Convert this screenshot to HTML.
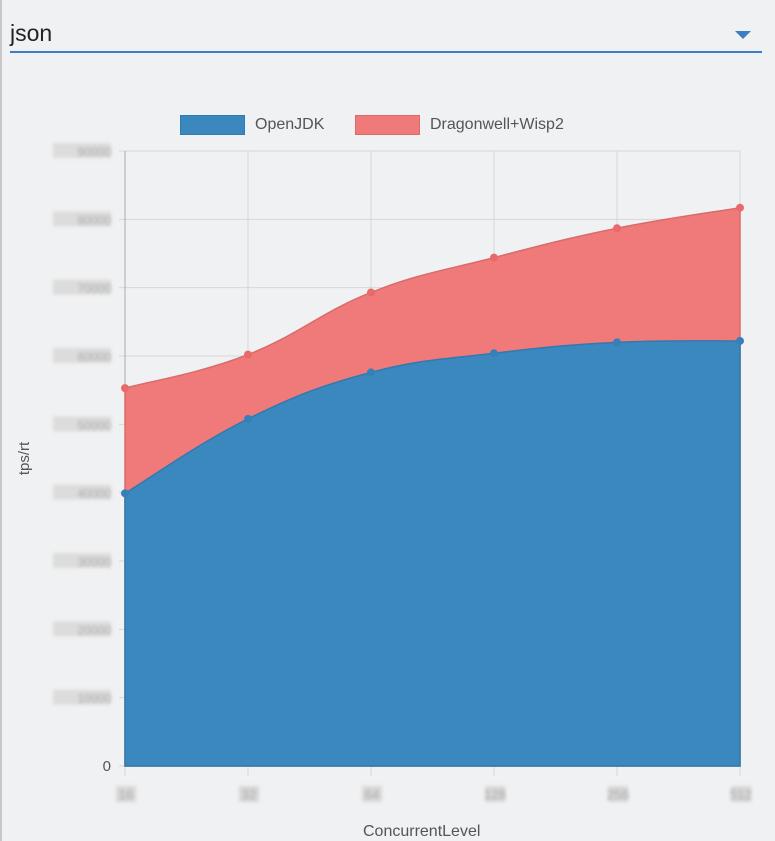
<!DOCTYPE html>
<html><head><meta charset="utf-8"><style>
body{margin:0;background:#f0f1f2;font-family:"Liberation Sans",sans-serif;}
#wrap{position:relative;width:775px;height:841px;overflow:hidden;border-left:2px solid #c8c8c8;box-sizing:border-box;}
</style></head><body>
<div id="wrap">
<div style="position:absolute;left:8px;top:14px;width:752px;height:37px;border-bottom:2px solid #3a7fc0;">
<span style="position:absolute;left:0;top:6px;font-size:23px;color:#222;">json</span>
<span style="position:absolute;left:725px;top:17px;width:0;height:0;border-left:8px solid transparent;border-right:8px solid transparent;border-top:8px solid #3a7fc0;"></span>
</div>
<svg id="c" width="775" height="841" style="position:absolute;left:-2px;top:0"></svg>
</div>
<script>
const categories=["16","32","64","128","256","512"];
const openjdk=[39900,50800,57600,60400,62000,62200];
const dragonwell=[15400,9400,11700,14000,16700,19500];
const yTicks=[0,10000,20000,30000,40000,50000,60000,70000,80000,90000];
const NS="http://www.w3.org/2000/svg";
const svg=document.getElementById('c');
const L=125,R=740,B=766,T=151,yMax=90000;
const x=i=>L+i*(R-L)/(categories.length-1);
const y=v=>B-v/yMax*(B-T);
function el(t,a,p){const e=document.createElementNS(NS,t);for(const k in a)e.setAttribute(k,a[k]);(p||svg).appendChild(e);return e;}
yTicks.forEach((v,i)=>{
 const g=el('line',{x1:L-6,x2:R,y1:y(v),y2:y(v),stroke:'#d6d6d6'});
 
 
 if(v!==0){el('rect',{x:53,y:y(v)-8,width:58,height:15,fill:'#dcdcdc',style:'filter:blur(1.5px)'});}
 const t=el('text',{x:L-14,y:y(v)+5,'text-anchor':'end','font-size':v===0?15:12,fill:v===0?'#555':'#aaa',style:v===0?'':'filter:blur(1.5px)'});
 t.textContent=v;
 
 
});
categories.forEach((c,i)=>{
 const g=el('line',{x1:x(i),x2:x(i),y1:T,y2:B+10,stroke:'#d6d6d6'});
 
 
 el('rect',{x:x(i)-9,y:B+20,width:20,height:16,fill:'#d8d8d8',style:'filter:blur(1.5px)'});
 const t=el('text',{x:x(i)+1,y:B+33,'text-anchor':'middle','font-size':13,fill:'#aaa',style:'filter:blur(1.5px)'});
 t.textContent=c;
 
 
});
el('line',{x1:L,x2:L,y1:T,y2:B,stroke:'#aaa'});
function path(pts){
 let d=`M${pts[0][0]},${pts[0][1]}`;const t=0.4;
 for(let i=0;i<pts.length-1;i++){
  const p0=pts[i-1]||pts[i],p1=pts[i],p2=pts[i+1],p3=pts[i+2]||p2;
  const c1=[p1[0]+(p2[0]-p0[0])*t/2,p1[1]+(p2[1]-p0[1])*t/2];
  const c2=[p2[0]-(p3[0]-p1[0])*t/2,p2[1]-(p3[1]-p1[1])*t/2];
  d+=` C${c1[0]},${c1[1]} ${c2[0]},${c2[1]} ${p2[0]},${p2[1]}`;
 }return d;}
const p1=openjdk.map((v,i)=>[x(i),y(v)]);
const p2=openjdk.map((v,i)=>[x(i),y(v+dragonwell[i])]);
const a2=el('path',{d:path(p2)+` L${R},${B} L${L},${B} Z`,fill:'#f07a7a',stroke:'#d96b6b','stroke-width':1.5});


const a1=el('path',{d:path(p1)+` L${R},${B} L${L},${B} Z`,fill:'#3a88bd',stroke:'#2f7ab0','stroke-width':1.5});


p2.forEach(p=>{const c=el('circle',{cx:p[0],cy:p[1],r:4,fill:'#e86a6a'});
 
 });
p1.forEach(p=>{const c=el('circle',{cx:p[0],cy:p[1],r:4,fill:'#3580b8'});
 
 });
</script>
<div style="position:absolute;left:180px;top:115px;font-size:16px;color:#555;">
<span style="position:absolute;left:0;top:0;white-space:nowrap;"><span style="display:inline-block;width:63px;height:18px;background:#3a88bd;border:1px solid #2f7ab0;vertical-align:top;"></span><span style="position:absolute;left:75px;top:1px;">OpenJDK</span></span>
<span style="position:absolute;left:175px;top:0;white-space:nowrap;"><span style="display:inline-block;width:63px;height:18px;background:#f07a7a;border:1px solid #d96b6b;vertical-align:top;"></span><span style="position:absolute;left:75px;top:1px;">Dragonwell+Wisp2</span></span>
</div>
<div style="position:absolute;left:8px;top:450px;transform:rotate(-90deg);font-size:15px;color:#555;">tps/rt</div>
<div style="position:absolute;left:363px;top:823px;font-size:16px;color:#555;">ConcurrentLevel</div>
</body></html>
